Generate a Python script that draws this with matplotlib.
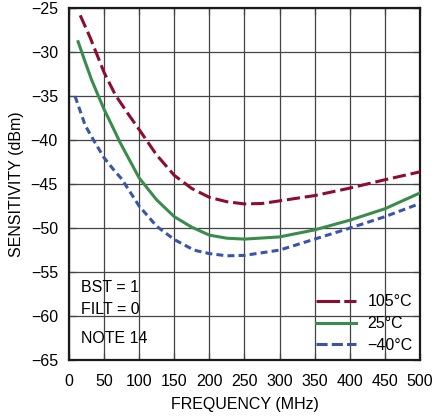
import matplotlib
matplotlib.use('Agg')
import matplotlib.pyplot as plt
from matplotlib.lines import Line2D
from matplotlib.patches import Rectangle

plt.rcParams['font.family'] = ['Liberation Sans', 'DejaVu Sans']
plt.rcParams['font.size'] = 11
plt.rcParams['lines.scale_dashes'] = False
plt.rcParams['axes.unicode_minus'] = True

# curves (MHz, dBm)
f_105 = [16, 30, 42, 50, 66, 85, 100, 125, 150, 175, 200, 225, 250, 275, 300, 350, 400, 450, 500]
s_105 = [-25.8, -28.3, -30.7, -32.3, -34.85, -37.1, -38.8, -41.7, -44.0, -45.5, -46.5, -47.0, -47.25, -47.2, -46.9, -46.3, -45.45, -44.5, -43.6]

f_25 = [13, 23, 32, 42, 50, 61, 73, 100, 125, 150, 175, 200, 225, 250, 300, 350, 400, 450, 500]
s_25 = [-28.8, -31.1, -33.1, -35.0, -36.5, -38.3, -40.3, -44.3, -46.8, -48.7, -49.9, -50.8, -51.15, -51.25, -51.0, -50.2, -49.1, -47.8, -46.0]

f_m40 = [8.6, 23, 35, 50, 65, 75, 100, 125, 150, 178, 200, 225, 250, 300, 350, 400, 450, 500]
s_m40 = [-35.0, -38.3, -40.0, -42.0, -43.5, -44.4, -47.5, -49.8, -51.3, -52.5, -52.9, -53.15, -53.1, -52.5, -51.25, -50.0, -48.7, -47.2]

labels = ['105°C', '25°C', '\u221240°C']
xticks = list(range(0, 501, 50))
yticks = list(range(-65, -24, 5))

c_red = '#8e0c2e'
c_green = '#3a8c4c'
c_blue = '#3a55a8'

fig = plt.figure(figsize=(4.35, 4.19), dpi=100)
ax = fig.add_axes([69/435, 1-360/419, 351/435, 351.7/419])

ax.plot(f_105, s_105, color=c_red, lw=2.2, dashes=(9.5, 3.5), zorder=3)
ax.plot(f_25, s_25, color=c_green, lw=2.2, zorder=3)
ax.plot(f_m40, s_m40, color=c_blue, lw=2.2, dashes=(5, 3), zorder=3)

ax.set_xlim(0, 500)
ax.set_ylim(-65, -25)
ax.set_xticks(xticks)
ax.set_yticks(yticks)
ax.set_yticklabels(['\u2212%d' % -v for v in yticks])
ax.grid(True, color='#444444', lw=0.9, zorder=0)
ax.tick_params(direction='in', length=5, width=0.9, color='#444444',
               top=True, right=True, labelsize=11.5, pad=8)
ax.tick_params(axis='x', pad=10)
for s in ax.spines.values():
    s.set_linewidth(1.6)
    s.set_color('#1a1a1a')

ax.set_xlabel('FREQUENCY (MHz)', fontsize=11.5, labelpad=6)
ax.set_ylabel('SENSITIVITY (dBm)', fontsize=11.5, labelpad=5)

# white boxes that hide the grid under the notes and the legend
ax.add_patch(Rectangle((0, -65), 106, 10.5, facecolor='white', edgecolor='none', zorder=1))
ax.add_patch(Rectangle((349, -65), 151, 8.9, facecolor='white', edgecolor='none', zorder=1))

ax.text(17, -56.8, 'BST = 1', fontsize=11.5, va='center', zorder=4)
ax.text(17, -59.3, 'FILT = 0', fontsize=11.5, va='center', zorder=4)
ax.text(17, -62.6, 'NOTE 14', fontsize=11.5, va='center', zorder=4)

handles = [Line2D([], [], color=c_red, lw=2.2, dashes=(17, 3)),
           Line2D([], [], color=c_green, lw=2.2),
           Line2D([], [], color=c_blue, lw=2.2, dashes=(8, 3))]
leg = ax.legend(handles, labels, loc='lower right', frameon=False, fontsize=11.5,
                handlelength=2.5, handletextpad=0.75, labelspacing=0.42,
                borderaxespad=0.15, borderpad=0.3)
leg.set_zorder(5)

fig.savefig('out.png', dpi=100)
